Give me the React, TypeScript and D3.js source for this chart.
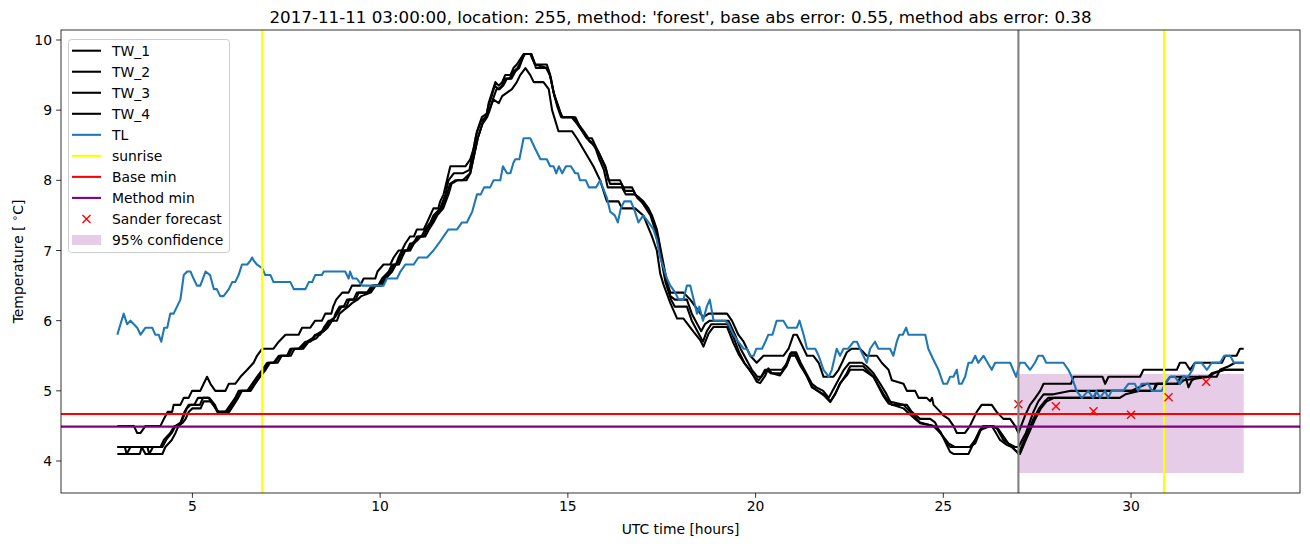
import React from "react";
import * as d3 from "d3";

type P = [number, number];

const TITLE = "2017-11-11 03:00:00, location: 255, method: 'forest', base abs error: 0.55, method abs error: 0.38";
const X_TICKS = [5, 10, 15, 20, 25, 30];
const Y_TICKS = [4, 5, 6, 7, 8, 9, 10];

const TW_1: P[] = [[3.0,4.5],[3.44,4.5],[3.53,4.4],[3.62,4.4],[3.75,4.5],[4.15,4.5],[4.24,4.6],[4.34,4.7],[4.46,4.7],[4.5,4.8],[4.68,4.8],[4.77,4.9],[4.9,4.9],[4.99,5.0],[5.21,5.0],[5.3,5.1],[5.39,5.2],[5.48,5.1],[5.61,5.0],[5.88,5.0],[5.97,5.1],[6.14,5.1],[6.28,5.2],[6.46,5.3],[6.63,5.4],[6.72,5.5],[6.86,5.6],[7.16,5.6],[7.3,5.7],[7.48,5.8],[7.83,5.8],[7.92,5.9],[8.14,5.9],[8.27,6.0],[8.45,6.0],[8.54,6.1],[8.7,6.1],[8.75,6.2],[8.83,6.3],[8.99,6.4],[9.16,6.4],[9.25,6.5],[9.47,6.5],[9.56,6.6],[9.87,6.6],[9.93,6.7],[10.09,6.8],[10.27,6.8],[10.36,6.9],[10.49,7.0],[10.58,7.0],[10.67,7.1],[10.8,7.2],[10.9,7.2],[10.98,7.3],[11.16,7.3],[11.25,7.4],[11.42,7.6],[11.55,7.6],[11.6,7.7],[11.69,7.8],[11.78,8.0],[11.87,8.2],[12.27,8.2],[12.4,8.3],[12.49,8.45],[12.58,8.7],[12.71,8.9],[12.84,8.95],[12.89,9.1],[12.98,9.25],[13.07,9.4],[13.16,9.35],[13.25,9.4],[13.33,9.5],[13.47,9.5],[13.55,9.6],[13.64,9.65],[13.82,9.8],[14.0,9.8],[14.08,9.7],[14.13,9.65],[14.44,9.65],[14.53,9.5],[14.62,9.25],[14.75,9.05],[14.84,8.9],[15.15,8.9],[15.28,8.8],[15.42,8.7],[15.55,8.6],[15.64,8.6],[15.77,8.45],[15.86,8.35],[16.0,8.2],[16.08,8.0],[16.39,8.0],[16.48,7.9],[16.71,7.9],[16.79,7.8],[17.01,7.7],[17.15,7.6],[17.24,7.5],[17.37,7.3],[17.46,7.05],[17.55,6.8],[17.64,6.55],[17.73,6.4],[18.08,6.4],[18.26,6.3],[18.53,6.1],[18.61,6.05],[18.75,6.1],[19.24,6.1],[19.37,6.0],[19.54,5.8],[19.68,5.7],[19.86,5.5],[20.03,5.4],[20.21,5.5],[20.74,5.5],[20.88,5.6],[21.01,5.8],[21.1,5.8],[21.28,5.6],[21.37,5.5],[21.54,5.5],[21.68,5.4],[21.81,5.2],[22.07,5.2],[22.21,5.3],[22.3,5.4],[22.43,5.55],[22.56,5.6],[22.78,5.6],[22.96,5.5],[23.23,5.5],[23.36,5.4],[23.54,5.3],[23.63,5.15],[23.94,5.1],[24.03,5.0],[24.25,5.0],[24.34,4.9],[24.56,4.9],[24.65,4.85],[24.7,4.9],[24.74,4.8],[24.92,4.7],[25.0,4.65],[25.14,4.6],[25.27,4.5],[25.36,4.4],[25.58,4.4],[25.71,4.5],[25.89,4.7],[26.02,4.8],[26.29,4.8],[26.42,4.7],[26.6,4.6],[26.78,4.6],[26.91,4.5],[27.0,4.4],[27.18,4.65],[27.31,4.8],[27.45,4.9],[27.58,5.0],[27.67,5.1],[28.4,5.1],[28.47,5.2],[29.24,5.2],[29.31,5.1],[29.4,5.2],[30.24,5.2],[30.33,5.3],[31.22,5.3],[31.3,5.4],[31.45,5.4],[31.57,5.3],[31.7,5.4],[32.42,5.4],[32.51,5.5],[32.81,5.5],[32.9,5.6],[33.0,5.6]];

const TW_2: P[] = [[3.0,4.2],[4.15,4.2],[4.24,4.3],[4.41,4.4],[4.52,4.5],[4.65,4.5],[4.72,4.6],[4.79,4.7],[4.9,4.8],[5.05,4.8],[5.15,4.9],[5.43,4.9],[5.57,4.8],[5.66,4.7],[5.88,4.7],[6.01,4.8],[6.14,4.9],[6.23,5.0],[6.46,5.0],[6.59,5.1],[6.72,5.2],[6.86,5.3],[6.99,5.4],[7.16,5.4],[7.3,5.5],[7.52,5.5],[7.61,5.6],[7.83,5.6],[8.01,5.7],[8.14,5.7],[8.27,5.8],[8.4,5.8],[8.5,5.9],[8.63,6.0],[8.75,6.0],[8.81,6.1],[8.92,6.2],[9.03,6.2],[9.12,6.3],[9.29,6.3],[9.38,6.4],[9.65,6.4],[9.78,6.5],[9.95,6.5],[10.05,6.6],[10.23,6.7],[10.32,6.8],[10.42,6.8],[10.49,6.9],[10.58,7.0],[10.72,7.0],[10.8,7.1],[10.9,7.1],[10.98,7.2],[11.1,7.2],[11.2,7.3],[11.34,7.4],[11.42,7.5],[11.6,7.6],[11.74,7.8],[11.82,8.0],[11.96,8.1],[12.2,8.1],[12.38,8.15],[12.47,8.4],[12.56,8.65],[12.69,8.85],[12.82,8.9],[12.88,9.05],[12.97,9.2],[13.05,9.35],[13.15,9.3],[13.24,9.35],[13.33,9.45],[13.45,9.45],[13.55,9.55],[13.66,9.6],[13.8,9.75],[13.86,9.8],[14.03,9.8],[14.12,9.65],[14.46,9.6],[14.55,9.45],[14.64,9.2],[14.77,9.0],[14.86,8.9],[15.2,8.9],[15.33,8.75],[15.45,8.65],[15.58,8.55],[15.7,8.5],[15.82,8.4],[15.9,8.3],[16.02,8.15],[16.12,7.95],[16.42,7.95],[16.52,7.85],[16.75,7.85],[16.85,7.75],[17.05,7.65],[17.18,7.55],[17.28,7.4],[17.4,7.2],[17.46,7.0],[17.6,6.6],[17.73,6.35],[17.85,6.3],[18.17,6.3],[18.3,6.1],[18.45,5.95],[18.55,5.85],[18.65,5.95],[18.78,6.0],[19.28,6.0],[19.45,5.8],[19.6,5.6],[19.75,5.45],[19.9,5.3],[20.05,5.2],[20.15,5.2],[20.25,5.3],[20.7,5.3],[20.85,5.4],[20.95,5.55],[21.08,5.55],[21.2,5.4],[21.35,5.25],[21.5,5.1],[21.62,5.05],[21.8,5.0],[21.95,4.9],[22.05,5.0],[22.2,5.15],[22.35,5.3],[22.5,5.4],[22.61,5.4],[22.83,5.4],[22.96,5.35],[23.14,5.25],[23.32,5.1],[23.49,4.95],[23.63,4.8],[24.03,4.8],[24.16,4.7],[24.38,4.6],[24.65,4.6],[24.78,4.55],[24.92,4.4],[25.14,4.25],[25.3,4.2],[25.71,4.2],[25.85,4.3],[25.98,4.45],[26.07,4.5],[26.33,4.5],[26.47,4.45],[26.6,4.35],[26.73,4.25],[26.91,4.2],[27.0,4.2],[27.1,4.3],[27.2,4.4],[27.3,4.55],[27.4,4.7],[27.53,4.85],[27.67,4.95],[27.93,4.95],[28.4,5.0],[29.9,5.0],[30.0,5.0],[30.42,5.1],[30.9,5.1],[31.04,5.2],[31.45,5.2],[31.53,5.05],[31.62,5.15],[31.79,5.2],[32.28,5.2],[32.37,5.3],[32.6,5.35],[32.77,5.4],[33.0,5.4]];

const TW_3: P[] = [[3.0,4.2],[3.2,4.2],[3.25,4.1],[3.35,4.2],[3.8,4.2],[3.85,4.1],[3.95,4.2],[4.2,4.2],[4.3,4.3],[4.45,4.4],[4.55,4.5],[4.7,4.55],[4.78,4.65],[4.85,4.75],[4.95,4.8],[5.2,4.8],[5.28,4.9],[5.45,4.9],[5.6,4.8],[5.68,4.7],[5.92,4.7],[6.05,4.8],[6.18,4.9],[6.27,5.0],[6.5,5.0],[6.62,5.1],[6.76,5.2],[6.9,5.3],[7.02,5.4],[7.2,5.4],[7.33,5.5],[7.56,5.5],[7.65,5.6],[7.9,5.6],[8.05,5.7],[8.2,5.75],[8.3,5.8],[8.45,5.85],[8.55,5.9],[8.67,6.0],[8.8,6.05],[8.86,6.1],[8.97,6.2],[9.1,6.2],[9.18,6.3],[9.35,6.3],[9.43,6.4],[9.7,6.4],[9.82,6.5],[10.0,6.5],[10.1,6.6],[10.28,6.7],[10.37,6.8],[10.45,6.8],[10.53,6.9],[10.62,7.0],[10.76,7.0],[10.85,7.1],[10.95,7.15],[11.03,7.2],[11.15,7.2],[11.25,7.3],[11.38,7.4],[11.47,7.5],[11.64,7.6],[11.78,7.8],[11.86,7.95],[12.0,8.0],[12.2,8.0],[12.4,8.1],[12.5,8.35],[12.6,8.6],[12.72,8.8],[12.85,8.9],[12.92,9.0],[13.0,9.15],[13.1,9.3],[13.18,9.3],[13.28,9.35],[13.38,9.45],[13.5,9.45],[13.6,9.55],[13.7,9.6],[13.84,9.8],[14.02,9.8],[14.1,9.7],[14.15,9.6],[14.42,9.6],[14.52,9.5],[14.6,9.3],[14.72,9.05],[14.82,8.9],[15.1,8.9],[15.25,8.8],[15.38,8.7],[15.5,8.6],[15.62,8.55],[15.74,8.45],[15.84,8.3],[15.96,8.15],[16.06,7.9],[16.44,7.9],[16.54,7.8],[16.78,7.8],[16.9,7.75],[17.08,7.6],[17.2,7.5],[17.32,7.3],[17.46,6.95],[17.6,6.55],[17.75,6.3],[17.85,6.2],[18.17,6.2],[18.3,6.0],[18.45,5.85],[18.6,5.7],[18.7,5.85],[18.82,5.95],[19.26,5.95],[19.42,5.75],[19.56,5.55],[19.7,5.4],[19.84,5.3],[19.97,5.2],[20.08,5.15],[20.22,5.25],[20.3,5.3],[20.4,5.25],[20.68,5.25],[20.82,5.35],[20.93,5.5],[21.06,5.5],[21.2,5.35],[21.38,5.2],[21.5,5.05],[21.65,5.0],[21.82,4.95],[21.99,4.85],[22.12,4.95],[22.25,5.1],[22.43,5.25],[22.52,5.35],[22.65,5.35],[22.87,5.35],[23.14,5.2],[23.41,4.95],[23.54,4.85],[23.94,4.8],[24.12,4.7],[24.38,4.55],[24.74,4.5],[24.92,4.4],[25.18,4.2],[25.71,4.2],[25.85,4.25],[25.98,4.42],[26.07,4.5],[26.29,4.5],[26.38,4.42],[26.51,4.3],[26.69,4.23],[26.82,4.2],[26.96,4.13],[27.0,4.1],[27.2,4.35],[27.4,4.6],[27.55,4.75],[27.7,4.85],[27.8,4.9],[29.0,4.9],[29.1,5.0],[29.7,5.0],[30.6,5.0],[30.66,5.1],[31.23,5.1],[31.32,5.2],[32.06,5.2],[32.15,5.25],[32.46,5.3],[33.0,5.3]];

const TW_4: P[] = [[3.0,4.1],[3.6,4.1],[3.65,4.2],[3.75,4.1],[4.2,4.1],[4.28,4.2],[4.45,4.3],[4.55,4.4],[4.63,4.5],[4.75,4.55],[4.82,4.6],[4.9,4.7],[5.0,4.75],[5.22,4.75],[5.3,4.85],[5.48,4.85],[5.62,4.75],[5.7,4.7],[5.98,4.7],[6.1,4.8],[6.22,4.9],[6.32,5.0],[6.55,5.0],[6.67,5.1],[6.8,5.2],[6.95,5.3],[7.07,5.4],[7.27,5.4],[7.38,5.5],[7.62,5.5],[7.72,5.6],[7.95,5.6],[8.1,5.7],[8.3,5.75],[8.38,5.8],[8.5,5.85],[8.6,5.9],[8.72,6.0],[8.85,6.0],[8.92,6.1],[9.03,6.15],[9.15,6.2],[9.25,6.25],[9.4,6.3],[9.5,6.35],[9.75,6.4],[9.88,6.5],[10.05,6.5],[10.15,6.6],[10.32,6.7],[10.42,6.8],[10.5,6.8],[10.58,6.9],[10.67,7.0],[10.8,7.0],[10.9,7.1],[11.0,7.15],[11.08,7.2],[11.2,7.2],[11.3,7.3],[11.42,7.4],[11.52,7.5],[11.68,7.6],[11.82,7.8],[11.9,7.95],[12.05,8.0],[12.3,8.0],[12.4,8.1],[12.5,8.35],[12.6,8.6],[12.75,8.85],[12.9,9.0],[13.02,9.15],[13.16,9.1],[13.25,9.2],[13.38,9.25],[13.51,9.3],[13.64,9.4],[13.73,9.5],[13.87,9.6],[14.0,9.5],[14.09,9.4],[14.35,9.4],[14.49,9.3],[14.58,9.0],[14.75,8.7],[15.11,8.7],[15.24,8.6],[15.46,8.4],[15.68,8.2],[15.86,8.0],[16.04,7.7],[16.35,7.7],[16.44,7.6],[16.79,7.6],[17.01,7.5],[17.24,7.2],[17.37,7.0],[17.46,6.67],[17.55,6.51],[17.73,6.25],[17.91,6.03],[18.08,6.03],[18.35,5.84],[18.53,5.72],[18.61,5.63],[18.75,5.82],[18.88,5.91],[19.24,5.91],[19.41,5.68],[19.54,5.53],[19.68,5.41],[19.81,5.32],[19.94,5.22],[20.03,5.13],[20.12,5.11],[20.26,5.22],[20.34,5.32],[20.43,5.25],[20.65,5.22],[20.79,5.34],[20.92,5.53],[21.05,5.53],[21.19,5.39],[21.37,5.2],[21.5,5.06],[21.63,5.01],[21.81,4.94],[21.99,4.84],[22.12,4.96],[22.25,5.11],[22.43,5.22],[22.52,5.3],[22.87,5.3],[23.14,5.2],[23.41,4.92],[23.54,4.82],[23.94,4.75],[24.12,4.66],[24.38,4.54],[24.74,4.5],[24.92,4.42],[25.18,4.13],[25.27,4.1],[25.67,4.1],[25.8,4.25],[25.98,4.44],[26.25,4.5],[26.42,4.47],[26.6,4.3],[26.78,4.23],[26.96,4.13],[27.04,4.1],[27.2,4.3],[27.45,4.6],[27.6,4.75],[27.75,4.85],[27.95,4.9],[29.7,4.9],[29.85,4.95],[30.24,5.0],[30.6,5.0],[30.7,5.1],[31.3,5.1],[31.4,5.15],[32.1,5.2],[32.2,5.25],[32.5,5.3],[33.0,5.3]];

const TL: P[] = [[3.0,5.8],[3.17,6.1],[3.26,5.95],[3.35,6.0],[3.44,5.95],[3.53,5.9],[3.62,5.8],[3.75,5.9],[3.93,5.9],[4.01,5.8],[4.1,5.8],[4.17,5.7],[4.25,5.9],[4.33,5.9],[4.41,6.1],[4.5,6.1],[4.59,6.2],[4.68,6.3],[4.77,6.65],[4.86,6.7],[4.95,6.7],[5.03,6.6],[5.12,6.5],[5.21,6.5],[5.35,6.7],[5.47,6.65],[5.57,6.45],[5.65,6.45],[5.74,6.35],[5.83,6.35],[5.97,6.45],[6.06,6.55],[6.14,6.55],[6.23,6.65],[6.32,6.8],[6.46,6.8],[6.54,6.85],[6.59,6.9],[6.64,6.85],[6.72,6.8],[6.86,6.75],[6.94,6.65],[7.08,6.65],[7.16,6.55],[7.61,6.55],[7.7,6.45],[8.01,6.45],[8.1,6.55],[8.19,6.55],[8.27,6.65],[8.45,6.65],[8.5,6.7],[9.07,6.7],[9.16,6.6],[9.2,6.7],[9.27,6.6],[9.38,6.6],[9.52,6.5],[10.09,6.5],[10.18,6.6],[10.45,6.6],[10.54,6.7],[10.67,6.8],[10.89,6.8],[11.02,6.9],[11.25,6.9],[11.42,7.0],[11.56,7.1],[11.69,7.2],[11.82,7.3],[12.05,7.3],[12.18,7.4],[12.31,7.4],[12.45,7.55],[12.58,7.8],[12.68,7.8],[12.77,7.9],[12.93,7.9],[13.02,8.0],[13.2,8.0],[13.27,8.2],[13.38,8.1],[13.47,8.1],[13.55,8.25],[13.6,8.3],[13.71,8.3],[13.82,8.6],[14.0,8.6],[14.13,8.45],[14.27,8.3],[14.44,8.3],[14.53,8.2],[14.62,8.2],[14.69,8.1],[14.76,8.2],[14.85,8.1],[14.95,8.2],[15.08,8.2],[15.2,8.1],[15.27,8.1],[15.32,8.0],[15.48,8.0],[15.56,7.9],[15.75,7.9],[15.86,8.0],[15.93,7.9],[16.04,7.75],[16.13,7.55],[16.25,7.5],[16.33,7.4],[16.41,7.6],[16.5,7.7],[16.68,7.7],[16.79,7.55],[16.88,7.4],[17.01,7.5],[17.15,7.4],[17.28,7.3],[17.37,7.15],[17.46,6.9],[17.55,6.75],[17.64,6.6],[17.73,6.5],[17.86,6.4],[17.95,6.3],[18.08,6.3],[18.17,6.5],[18.26,6.5],[18.35,6.3],[18.44,6.1],[18.5,6.2],[18.6,6.0],[18.7,6.2],[18.78,6.3],[18.88,6.0],[19.19,6.0],[19.28,5.95],[19.41,5.8],[19.54,5.7],[19.68,5.6],[19.77,5.6],[19.86,5.5],[19.95,5.5],[20.02,5.6],[20.17,5.6],[20.26,5.7],[20.34,5.8],[20.45,5.8],[20.56,6.0],[20.74,6.0],[20.85,5.9],[21.1,5.9],[21.17,6.0],[21.28,5.8],[21.37,5.6],[21.59,5.6],[21.68,5.5],[21.81,5.3],[21.95,5.2],[22.03,5.3],[22.16,5.6],[22.25,5.5],[22.34,5.6],[22.47,5.6],[22.61,5.7],[22.7,5.7],[22.78,5.6],[22.96,5.4],[23.05,5.6],[23.18,5.7],[23.27,5.6],[23.58,5.6],[23.67,5.5],[23.76,5.7],[23.83,5.8],[23.92,5.8],[24.01,5.9],[24.07,5.8],[24.52,5.8],[24.6,5.6],[24.73,5.45],[24.87,5.3],[25.0,5.1],[25.1,5.1],[25.18,5.2],[25.27,5.2],[25.36,5.3],[25.42,5.1],[25.49,5.1],[25.58,5.2],[25.67,5.4],[25.76,5.4],[25.85,5.5],[25.93,5.4],[26.07,5.5],[26.29,5.3],[26.38,5.4],[26.78,5.4],[26.94,5.2],[27.04,5.4],[27.17,5.4],[27.31,5.3],[27.44,5.4],[27.53,5.5],[27.65,5.5],[27.74,5.4],[28.2,5.4],[28.33,5.3],[28.42,5.2],[28.55,5.0],[28.69,4.9],[28.86,5.0],[28.99,4.9],[29.08,5.0],[29.17,4.9],[29.31,5.0],[29.39,4.9],[29.48,5.0],[29.79,5.0],[29.93,5.1],[30.1,5.1],[30.19,5.0],[30.28,5.1],[30.46,5.1],[30.55,5.0],[30.82,5.0],[30.9,5.1],[31.04,5.2],[31.17,5.2],[31.3,5.1],[31.39,5.2],[31.52,5.2],[31.64,5.3],[31.7,5.4],[31.88,5.4],[32.02,5.3],[32.15,5.4],[32.37,5.4],[32.48,5.5],[32.64,5.5],[32.74,5.4],[33.0,5.4]];

const SUNRISE_HOURS = [6.86, 30.88];
const FORECAST_TIME = 27.0;
const BASE_MIN = 4.67;
const METHOD_MIN = 4.49;
const FORECAST_HOURS = [27, 28, 29, 30, 31, 32];
const FORECAST_VALUES = [4.81, 4.78, 4.71, 4.66, 4.91, 5.13];
const CONF_HOURS = [27, 33];
const CONF_LOWER = [3.83, 3.83];
const CONF_UPPER = [5.24, 5.24];

const W = 1310, H = 547;
const L = 61, R = 1300, T = 30, B = 493;
const FONT = "DejaVu Sans, sans-serif";

export default function App() {
  const x = d3.scaleLinear().domain([1.5, 34.5]).range([L, R]);
  const y = d3.scaleLinear().domain([3.544, 10.1425]).range([B, T]);
  const line = d3.line<P>().x(d => x(d[0])).y(d => y(d[1]));
  const area = d3.area<number>()
    .x((_, i) => x(CONF_HOURS[i]))
    .y0((_, i) => y(CONF_LOWER[i]))
    .y1((_, i) => y(CONF_UPPER[i]));
  const tws = [TW_1, TW_2, TW_3, TW_4];
  const lw = 2.08;

  const legendItems = [
    { label: "TW_1", kind: "line", color: "#000000" },
    { label: "TW_2", kind: "line", color: "#000000" },
    { label: "TW_3", kind: "line", color: "#000000" },
    { label: "TW_4", kind: "line", color: "#000000" },
    { label: "TL", kind: "line", color: "#1f77b4" },
    { label: "sunrise", kind: "line", color: "#ffff00" },
    { label: "Base min", kind: "line", color: "#ff0000" },
    { label: "Method min", kind: "line", color: "#800080" },
    { label: "Sander forecast", kind: "x", color: "#ff0000" },
    { label: "95% confidence", kind: "patch", color: "#e6cce6" },
  ];

  const cross = (cx: number, cy: number, k: number) => (
    <g key={k} stroke="#ff0000" strokeWidth={1.4}>
      <line x1={cx - 4} y1={cy - 4} x2={cx + 4} y2={cy + 4} />
      <line x1={cx - 4} y1={cy + 4} x2={cx + 4} y2={cy - 4} />
    </g>
  );

  return (
    <svg width={W} height={H} style={{ position: "absolute", left: 0, top: 0, background: "#fff" }} fontFamily={FONT}>
      <rect x={0} y={0} width={W} height={H} fill="#ffffff" />
      <defs>
        <clipPath id="plotclip"><rect x={L} y={T} width={R - L} height={B - T} /></clipPath>
      </defs>
      <g clipPath="url(#plotclip)">
        <path d={area([0, 1]) || ""} fill="#800080" fillOpacity={0.2} />
        {tws.map((s, i) => (
          <path key={i} d={line(s) || ""} fill="none" stroke="#000" strokeWidth={lw} strokeLinejoin="round" />
        ))}
        <path d={line(TL) || ""} fill="none" stroke="#1f77b4" strokeWidth={lw} strokeLinejoin="round" />
        {SUNRISE_HOURS.map((h, i) => (
          <line key={i} x1={x(h)} x2={x(h)} y1={T} y2={B} stroke="#ffff00" strokeWidth={lw} />
        ))}
        <line x1={L} x2={R} y1={y(BASE_MIN)} y2={y(BASE_MIN)} stroke="#ff0000" strokeWidth={lw} />
        <line x1={L} x2={R} y1={y(METHOD_MIN)} y2={y(METHOD_MIN)} stroke="#800080" strokeWidth={lw} />
        {FORECAST_HOURS.map((h, i) => cross(x(h), y(FORECAST_VALUES[i]), i))}
        <line x1={x(FORECAST_TIME)} x2={x(FORECAST_TIME)} y1={T} y2={B} stroke="#808080" strokeWidth={lw} />
      </g>
      <rect x={L} y={T} width={R - L} height={B - T} fill="none" stroke="#000" strokeWidth={0.8} />
      {X_TICKS.map(t => (
        <g key={t}>
          <line x1={x(t)} x2={x(t)} y1={B} y2={B + 4.9} stroke="#000" strokeWidth={0.8} />
          <text x={x(t)} y={B + 18} fontSize={13.9} textAnchor="middle" fill="#000">{t}</text>
        </g>
      ))}
      {Y_TICKS.map(t => (
        <g key={t}>
          <line x1={L - 4.9} x2={L} y1={y(t)} y2={y(t)} stroke="#000" strokeWidth={0.8} />
          <text x={L - 9} y={y(t)} dy="0.36em" fontSize={13.9} textAnchor="end" fill="#000">{t}</text>
        </g>
      ))}
      <text x={(L + R) / 2} y={534} fontSize={13.9} textAnchor="middle" fill="#000">UTC time [hours]</text>
      <text transform={`translate(23,${(T + B) / 2}) rotate(-90)`} fontSize={13.9} textAnchor="middle" fill="#000" xmlSpace="preserve">
        {"Temperature [ "}<tspan dy={-5} fontSize={10}>∘</tspan><tspan dy={5}>C]</tspan>
      </text>
      <text x={(L + R) / 2} y={23} fontSize={16.7} textAnchor="middle" fill="#000">{TITLE}</text>
      <g>
        <rect x={68.5} y={39.5} width={161} height={213} rx={3} fill="#fff" fillOpacity={0.8} stroke="#cccccc" strokeWidth={1} />
        {legendItems.map((it, i) => {
          const cy = 50.7 + i * 21.03;
          return (
            <g key={it.label}>
              {it.kind === "line" && <line x1={72} x2={101} y1={cy} y2={cy} stroke={it.color} strokeWidth={lw} />}
              {it.kind === "x" && cross(86.5, cy, 99)}
              {it.kind === "patch" && <rect x={72} y={cy - 5} width={29} height={10} fill="#800080" fillOpacity={0.2} />}
              <text x={112} y={cy} dy="0.36em" fontSize={13.9} fill="#000">{it.label}</text>
            </g>
          );
        })}
      </g>
    </svg>
  );
}
